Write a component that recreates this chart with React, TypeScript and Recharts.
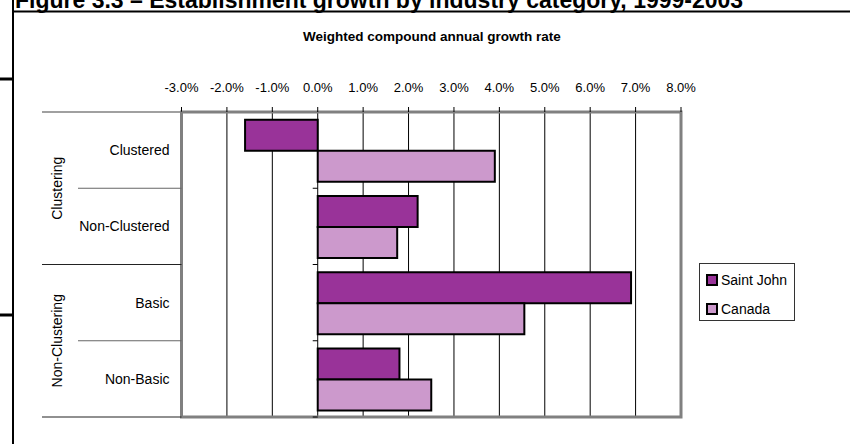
import { BarChart, Bar, XAxis, YAxis, CartesianGrid, ReferenceArea } from 'recharts';

const categories = ['Clustered', 'Non-Clustered', 'Basic', 'Non-Basic'];
const groups = ['Clustering', 'Clustering', 'Non-Clustering', 'Non-Clustering'];
const saintJohn = [-1.6, 2.2, 6.9, 1.8];
const canada = [3.9, 1.75, 4.55, 2.5];
const xTicks = [-3, -2, -1, 0, 1, 2, 3, 4, 5, 6, 7, 8];

const seriesNames = ['Saint John', 'Canada'];
const seriesColors = ['#993399', '#cc99cc'];

const FONT = '"Liberation Sans", Arial, sans-serif';

const data = categories.map((name, i) => ({
  name,
  group: groups[i],
  saintJohn: saintJohn[i],
  canada: canada[i],
}));

// chart frame
const W = 850;
const H = 444;
const M = { top: 82, right: 169, bottom: 27, left: 11.5 };
const X_AXIS_H = 30;
const Y_AXIS_W = 170;
const PLOT_TOP = M.top + X_AXIS_H;
const PLOT_H = H - PLOT_TOP - M.bottom;
const PLOT_LEFT = M.left + Y_AXIS_W;
const PLOT_W = W - PLOT_LEFT - M.right;
const zeroX = PLOT_LEFT + ((0 - xTicks[0]) / (xTicks[xTicks.length - 1] - xTicks[0])) * PLOT_W;

function CategoryTick(props: any) {
  const { x, y, payload, index } = props;
  const step = PLOT_H / categories.length;
  const axisX = x + 12;
  const bottom = y + step / 2;
  const top = y - step / 2;
  const groupEnd = index === categories.length - 1 || groups[index] !== groups[index + 1];
  const groupStart = index === 0 || groups[index] !== groups[index - 1];
  return (
    <g>
      <text x={x} y={y} dy={5} textAnchor="end" fontSize={14} fill="#000" fontFamily={FONT}>
        {payload.value}
      </text>
      {index === 0 && <line x1={axisX - 139.5} x2={axisX} y1={top} y2={top} stroke="#808080" strokeWidth={1.5} />}
      <line
        x1={groupEnd ? axisX - 139.5 : axisX - 103.5}
        x2={axisX}
        y1={bottom}
        y2={bottom}
        stroke={groupEnd ? '#222' : '#666'}
        strokeWidth={1.2}
      />
      <line x1={zeroX - 5} x2={zeroX} y1={bottom} y2={bottom} stroke="#000" strokeWidth={1} />
      {groupStart && (
        <text
          x={57}
          y={bottom}
          dy={5}
          textAnchor="middle"
          fontSize={14}
          fill="#000"
          fontFamily={FONT}
          transform={`rotate(-90 57 ${bottom})`}
        >
          {groups[index]}
        </text>
      )}
    </g>
  );
}

export default function App() {
  return (
    <div style={{ position: 'absolute', left: 0, top: 0, width: W, height: H, background: '#fff', fontFamily: FONT, overflow: 'hidden' }}>
      <BarChart
        width={W}
        height={H}
        data={data}
        layout="vertical"
        margin={M}
        barCategoryGap="10%"
        barGap={0}
      >
        <CartesianGrid vertical horizontal={false} stroke="#000" strokeWidth={1} />
        <ReferenceArea x1={-3} x2={8} fill="none" stroke="#808080" strokeWidth={3} />
        <XAxis
          type="number"
          orientation="top"
          domain={[-3, 8]}
          ticks={xTicks}
          interval={0}
          height={X_AXIS_H}
          axisLine={false}
          tickLine={{ stroke: '#000' }}
          tickSize={5}
          tickMargin={15}
          tick={{ fontSize: 13, fill: '#000', fontFamily: FONT }}
          tickFormatter={(v: number) => `${v.toFixed(1)}%`}
        />
        <YAxis
          type="category"
          dataKey="name"
          width={Y_AXIS_W}
          axisLine={false}
          tickLine={false}
          tickSize={0}
          tickMargin={12}
          interval={0}
          tick={<CategoryTick />}
        />
        <Bar dataKey="saintJohn" name={seriesNames[0]} fill={seriesColors[0]} stroke="#000" strokeWidth={2} isAnimationActive={false} />
        <Bar dataKey="canada" name={seriesNames[1]} fill={seriesColors[1]} stroke="#000" strokeWidth={2} isAnimationActive={false} />
      </BarChart>

      <div
        style={{
          position: 'absolute',
          left: 0,
          width: 864,
          top: 29,
          textAlign: 'center',
          fontSize: 13.5,
          fontWeight: 'bold',
          color: '#000',
        }}
      >
        Weighted compound annual growth rate
      </div>

      <div
        style={{
          position: 'absolute',
          left: 699,
          top: 263,
          width: 94,
          height: 56,
          border: '1px solid #333',
          background: '#fff',
          boxSizing: 'content-box',
        }}
      >
        {seriesNames.map((name, i) => (
          <div key={name} style={{ position: 'absolute', left: 6, top: 8 + i * 29, display: 'flex', alignItems: 'center', fontSize: 14 }}>
            <span
              style={{
                display: 'inline-block',
                width: 8,
                height: 8,
                background: seriesColors[i],
                border: '2px solid #000',
                marginRight: 3,
              }}
            />
            {name}
          </div>
        ))}
      </div>

      <svg width={W} height={H} style={{ position: 'absolute', left: 0, top: 0, pointerEvents: 'none' }}>
        <text x={15} y={8} fontSize={23} fontWeight="bold" fontFamily={FONT} fill="#000">
          Figure 3.3 – Establishment growth by industry category, 1999-2003
        </text>
        <line x1={13} x2={W} y1={11.5} y2={11.5} stroke="#000" strokeWidth={2} />
        <line x1={13} x2={13} y1={0} y2={H} stroke="#000" strokeWidth={2} />
        <line x1={0} x2={13} y1={79} y2={79} stroke="#000" strokeWidth={3} />
        <line x1={0} x2={13} y1={315} y2={315} stroke="#000" strokeWidth={3} />
      </svg>
    </div>
  );
}
